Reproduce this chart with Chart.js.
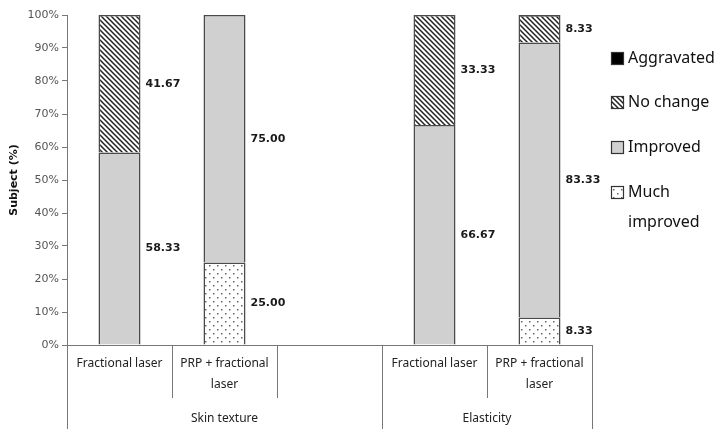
<!DOCTYPE html>
<html>
<head>
<meta charset="utf-8">
<script src="https://cdn.jsdelivr.net/npm/chart.js@4.4.1/dist/chart.umd.min.js"></script>
<style>
  html, body { margin: 0; padding: 0; background: #fff; }
  #wrap { width: 718px; height: 429px; position: relative; }
</style>
</head>
<body>
<div id="wrap"><canvas id="chart"></canvas></div>
<script>
// Chart data
const categories = [['Fractional laser'], ['PRP + fractional', 'laser'], [''], ['Fractional laser'], ['PRP + fractional', 'laser']];
const groups = ['Skin texture', 'Skin texture', 'Skin texture', 'Elasticity', 'Elasticity'];
const muchImproved = [0, 25.00, null, 0, 8.33];
const improved = [58.33, 75.00, null, 66.67, 83.33];
const noChange = [41.67, 0, null, 33.33, 8.33];
const aggravated = [0, 0, null, 0, 0];
const yTicks = [0, 10, 20, 30, 40, 50, 60, 70, 80, 90, 100];

// Fill patterns
function stripePattern() {
    const c = document.createElement('canvas');
    c.width = 5; c.height = 5;
    const g = c.getContext('2d');
    g.fillStyle = '#fff';
    g.fillRect(0, 0, 5, 5);
    g.strokeStyle = '#222';
    g.lineWidth = 1.5;
    g.beginPath();
    g.moveTo(-1, -1); g.lineTo(6, 6);
    g.moveTo(-1, 4); g.lineTo(1, 6);
    g.moveTo(4, -1); g.lineTo(6, 1);
    g.stroke();
    return g.createPattern(c, 'repeat');
}

function dotPattern() {
    const c = document.createElement('canvas');
    c.width = 8; c.height = 8;
    const g = c.getContext('2d');
    g.fillStyle = '#fff';
    g.fillRect(0, 0, 8, 8);
    g.fillStyle = '#666';
    g.fillRect(1, 1, 1.5, 1.5);
    g.fillRect(5, 5, 1.5, 1.5);
    return g.createPattern(c, 'repeat');
}

const stripes = stripePattern();
const dots = dotPattern();

// Value labels right of each segment
const valueLabels = {
    id: 'valueLabels',
    afterDatasetsDraw(chart) {
        const ctx = chart.ctx;
        ctx.save();
        ctx.font = 'bold 11px "DejaVu Sans"';
        ctx.fillStyle = '#1a1a1a';
        ctx.textAlign = 'left';
        ctx.textBaseline = 'middle';
        chart.data.datasets.forEach((ds, di) => {
            const meta = chart.getDatasetMeta(di);
            meta.data.forEach((bar, i) => {
                const v = ds.data[i];
                if (!v) return;
                const p = bar.getProps(['x', 'y', 'base', 'width'], true);
                ctx.fillText(v.toFixed(2), p.x + p.width / 2 + 5, (p.y + p.base) / 2);
            });
        });
        ctx.restore();
    }
};

// Category separators and group labels under the x axis
const groupAxis = {
    id: 'groupAxis',
    afterDraw(chart) {
        const ctx = chart.ctx;
        const x = chart.scales.x;
        const top = chart.chartArea.bottom;
        ctx.save();
        ctx.strokeStyle = '#777';
        ctx.lineWidth = 1;
        for (let i = 0; i <= categories.length; i++) {
            const px = Math.round(x.getPixelForValue(i - 0.5)) + 0.5;
            const long = i === 0 || i === categories.length || groups[i] !== groups[i - 1];
            ctx.beginPath();
            ctx.moveTo(px, top);
            ctx.lineTo(px, long ? 429 : 398);
            ctx.stroke();
        }
        ctx.font = '12px "Noto Sans"';
        ctx.fillStyle = '#222';
        ctx.textAlign = 'center';
        ctx.textBaseline = 'middle';
        let start = 0;
        for (let i = 1; i <= groups.length; i++) {
            if (i === groups.length || groups[i] !== groups[start]) {
                const l = x.getPixelForValue(start - 0.5);
                const r = x.getPixelForValue(i - 0.5);
                ctx.fillText(groups[start], (l + r) / 2, 419);
                start = i;
            }
        }
        ctx.restore();
    }
};

// Legend on the right, top item = top of stack
const sideLegend = {
    id: 'sideLegend',
    afterDraw(chart) {
        const ctx = chart.ctx;
        const items = [
            { ds: 3, lines: ['Aggravated'], y: 58 },
            { ds: 2, lines: ['No change'], y: 102 },
            { ds: 1, lines: ['Improved'], y: 147 },
            { ds: 0, lines: ['Much', 'improved'], y: 192 }
        ];
        ctx.save();
        ctx.font = '16px "Noto Sans"';
        ctx.textBaseline = 'middle';
        ctx.textAlign = 'left';
        items.forEach(it => {
            const ds = chart.data.datasets[it.ds];
            ctx.fillStyle = ds.backgroundColor;
            ctx.fillRect(611, it.y - 6, 13, 13);
            ctx.strokeStyle = '#333';
            ctx.lineWidth = 1.2;
            ctx.strokeRect(611.5, it.y - 5.5, 12, 12);
            ctx.fillStyle = '#111';
            it.lines.forEach((t, k) => ctx.fillText(t, 628, it.y + k * 30));
        });
        ctx.restore();
    }
};

new Chart(document.getElementById('chart'), {
    type: 'bar',
    data: {
        labels: categories,
        datasets: [
            { label: 'Much improved', data: muchImproved, backgroundColor: dots },
            { label: 'Improved', data: improved, backgroundColor: '#d0d0d0' },
            { label: 'No change', data: noChange, backgroundColor: stripes },
            { label: 'Aggravated', data: aggravated, backgroundColor: '#000' }
        ].map(d => Object.assign(d, {
            borderColor: '#4a4a4a',
            borderWidth: c => (c.raw ? 1.6 : 0),
            borderSkipped: 'start',
            categoryPercentage: 1,
            barPercentage: 0.4
        }))
    },
    options: {
        responsive: true,
        maintainAspectRatio: false,
        animation: false,
        layout: { padding: { top: 15, right: 126, bottom: 0, left: 0 } },
        plugins: {
            legend: { display: false },
            tooltip: { enabled: false }
        },
        scales: {
            x: {
                stacked: true,
                afterFit: s => { s.height = 84; },
                grid: { display: false, drawTicks: false },
                border: { color: '#777', width: 1 },
                ticks: {
                    padding: 8,
                    maxRotation: 0,
                    autoSkip: false,
                    color: '#222',
                    font: { family: 'Noto Sans', size: 12, lineHeight: 1.75 }
                }
            },
            y: {
                stacked: true,
                min: 0,
                max: 100,
                afterFit: s => { s.width = 67; },
                afterBuildTicks: s => { s.ticks = yTicks.map(v => ({ value: v })); },
                grid: { drawOnChartArea: false, tickLength: 5, color: '#777' },
                border: { color: '#777', width: 1 },
                ticks: {
                    padding: 3,
                    color: '#555',
                    font: { family: 'DejaVu Sans', size: 11 },
                    callback: v => v + '%'
                },
                title: {
                    display: true,
                    text: 'Subject (%)',
                    color: '#111',
                    font: { family: 'DejaVu Sans', size: 11, weight: 'bold' },
                    padding: { top: 8, bottom: 0 }
                }
            }
        }
    },
    plugins: [valueLabels, groupAxis, sideLegend]
});
</script>
</body>
</html>
